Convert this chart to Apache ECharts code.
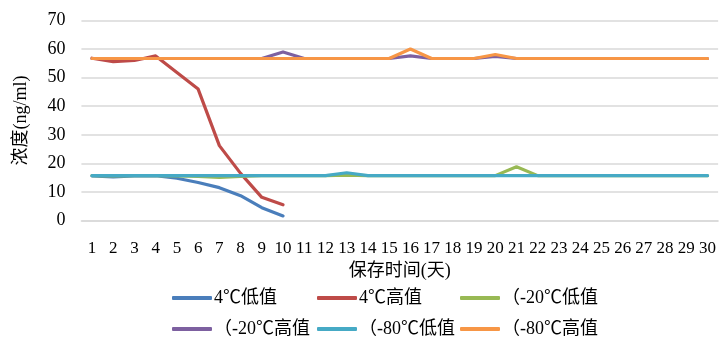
<!DOCTYPE html>
<html><head><meta charset="utf-8">
<script src="https://cdn.jsdelivr.net/npm/echarts@6/dist/echarts.min.js"></script>
<style>html,body{margin:0;padding:0;background:#fff}#c{width:719px;height:338px}</style>
</head><body><div id="c"></div>
<script>
var categories = ['1','2','3','4','5','6','7','8','9','10','11','12','13','14','15','16','17','18','19','20','21','22','23','24','25','26','27','28','29','30'];
var seriesNames = ['4℃低值','4℃高值','（-20℃低值','（-20℃高值','（-80℃低值','（-80℃高值'];
var low4 = [15.6,15.3,15.6,15.7,14.8,13.3,11.5,8.7,4.5,1.6];
var high4 = [56.8,55.6,56.0,57.6,51.8,46.0,26.2,16.5,8.1,5.5];
var low20 = [15.7,15.6,15.7,15.7,15.6,15.4,15.1,15.4,15.7,15.7,15.7,15.7,15.9,15.7,15.7,15.7,15.7,15.7,15.7,15.7,18.8,15.7,15.7,15.7,15.7,15.7,15.7,15.7,15.7,15.7];
var high20 = [56.7,56.7,56.7,56.7,56.7,56.7,56.7,56.7,56.7,59.0,56.7,56.7,56.7,56.7,56.7,57.6,56.7,56.7,56.7,57.4,56.7,56.7,56.7,56.7,56.7,56.7,56.7,56.7,56.7,56.7];
var low80 = [15.7,15.7,15.7,15.7,15.7,15.7,15.7,15.7,15.7,15.7,15.7,15.7,16.7,15.7,15.7,15.7,15.7,15.7,15.7,15.7,15.7,15.7,15.7,15.7,15.7,15.7,15.7,15.7,15.7,15.7];
var high80 = [56.7,56.7,56.7,56.7,56.7,56.7,56.7,56.7,56.7,56.7,56.7,56.7,56.7,56.7,56.7,60.0,56.7,56.7,56.7,58.1,56.7,56.7,56.7,56.7,56.7,56.7,56.7,56.7,56.7,56.7];
var yTicks = [0,10,20,30,40,50,60,70];
var colors = ['#4A7EBB','#BE4B48','#98B954','#7D60A0','#46AAC5','#F79646'];
var allData = [low4, high4, low20, high20, low80, high80];

var font = "'Liberation Serif','Noto Sans CJK SC',serif";
var chart = echarts.init(document.getElementById('c'));
var legendPos = [[172,289],[317,289],[460,289],[172,320],[317,320],[460,320]];
var legends = seriesNames.map(function(n,i){
  return {data:[n], left:legendPos[i][0], top:legendPos[i][1], icon:'roundRect', itemWidth:40, itemHeight:4,
    itemGap:0, padding:0, selectedMode:false,
    textStyle:{fontFamily:font, fontSize:18, color:'#000', padding:[0,0,0,-3]}};
});
chart.setOption({
  animation:false,
  color: colors,
  legend: legends,
  grid:{left:81.4, right:-0.6, top:20.5, bottom:117.5, containLabel:false},
  xAxis:{type:'category', data:categories, boundaryGap:true,
    name:'保存时间(天)', nameLocation:'middle', nameGap:42,
    nameTextStyle:{fontFamily:font, fontSize:18, color:'#000'},
    axisLine:{show:true, lineStyle:{color:'#d9d9d9', width:1.5}},
    axisTick:{show:false},
    axisLabel:{interval:0, fontFamily:font, fontSize:17, color:'#000', margin:20}},
  yAxis:{type:'value', min:yTicks[0], max:yTicks[yTicks.length-1], interval:10,
    name:'浓度(ng/ml)', nameLocation:'middle', nameGap:51,
    nameTextStyle:{fontFamily:font, fontSize:18, color:'#000'},
    axisLine:{show:false}, axisTick:{show:false},
    axisLabel:{fontFamily:font, fontSize:18, color:'#000', margin:16},
    splitLine:{lineStyle:{color:'#d9d9d9', width:1.5}}},
  series: seriesNames.map(function(n,i){
    return {name:n, type:'line', data:allData[i], showSymbol:false, symbol:'none',
      lineStyle:{width:3.2, color:colors[i], cap:'round', join:'round'}, itemStyle:{color:colors[i]}};
  })
});
</script></body></html>
